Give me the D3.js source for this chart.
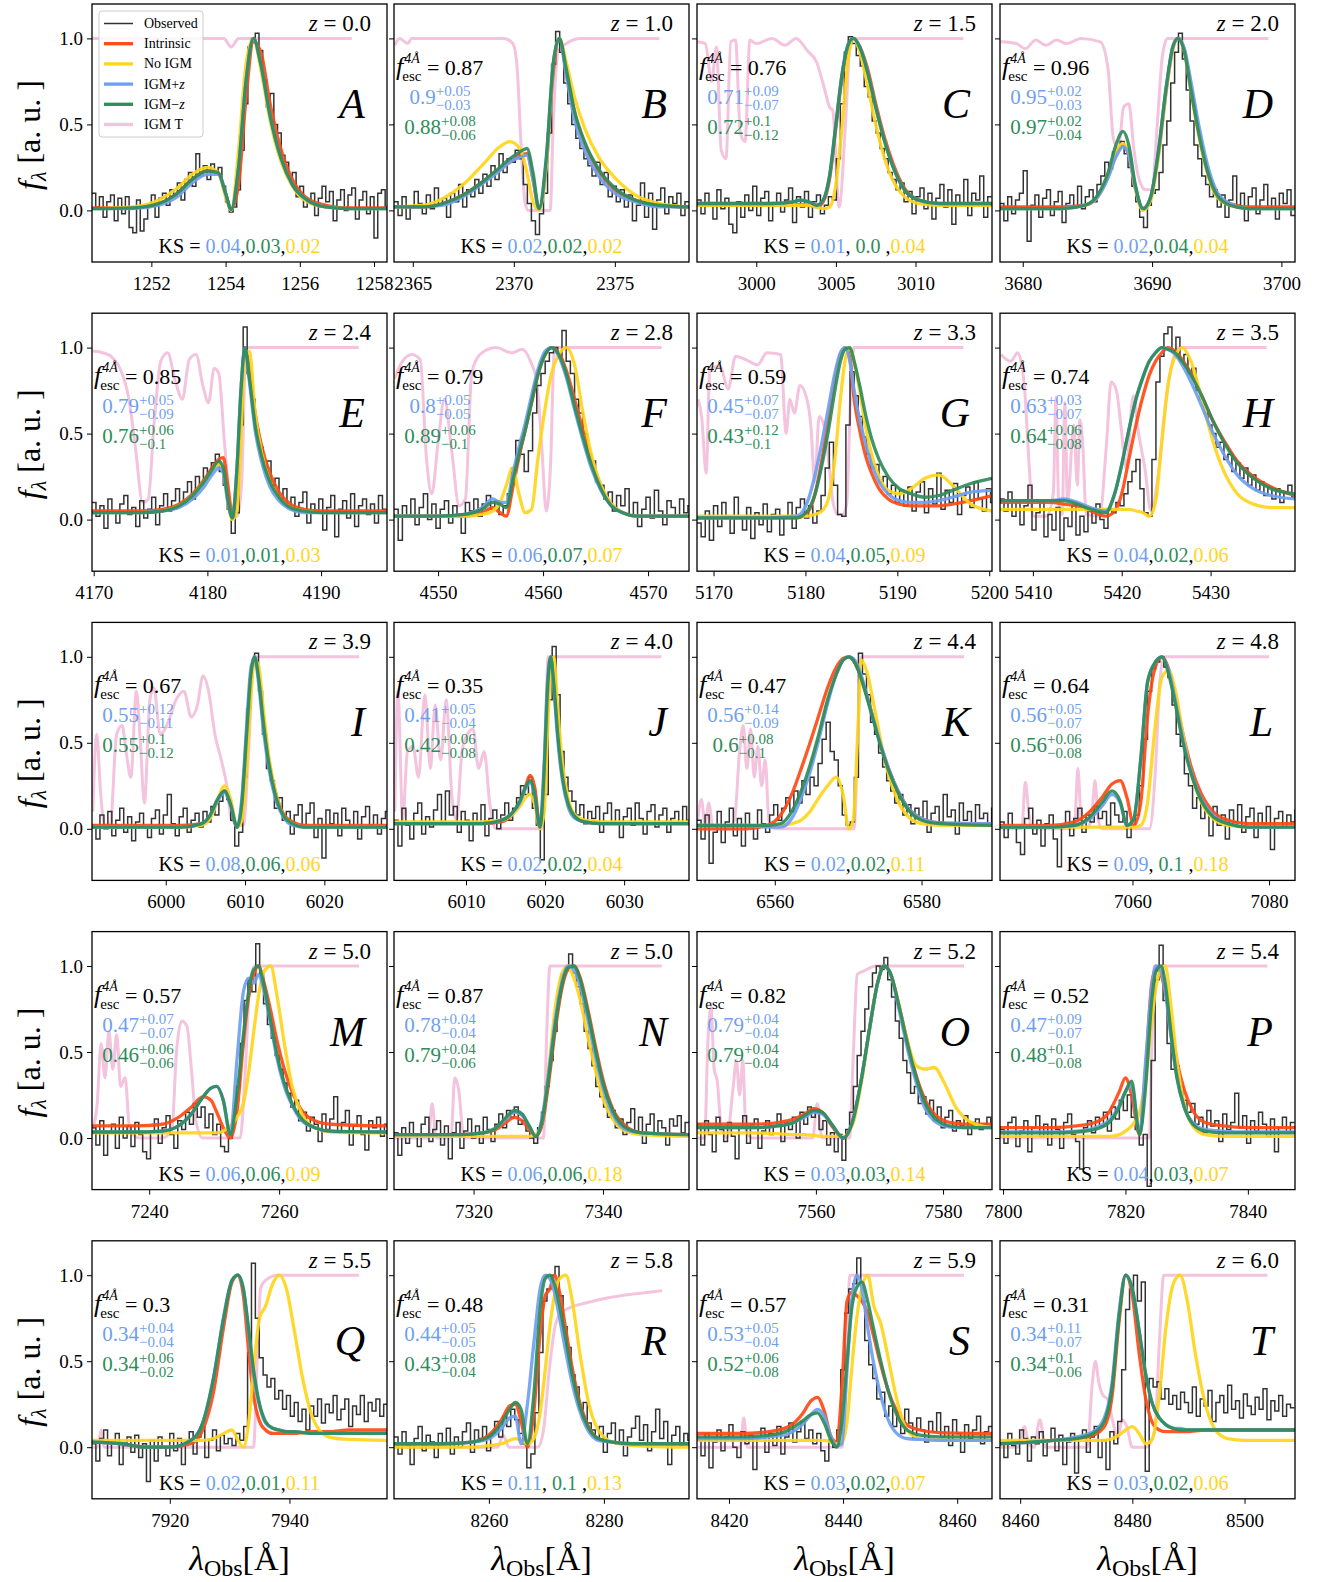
<!DOCTYPE html>
<html>
<head>
<meta charset="utf-8">
<script src="https://cdn.jsdelivr.net/npm/d3@7"></script>
<style>
body { margin: 0; background: #fff; }
text { font-family: "Liberation Serif", "DejaVu Serif", serif; white-space: pre; }
</style>
</head>
<body>
<div id="chart"></div>
<script>
// ---- panel labels and annotations ----
var letters = 'ABCDEFGHIJKLMNOPQRST'.split('');
var redshifts = ['0.0','1.0','1.5','2.0','2.4','2.8','3.3','3.5','3.9','4.0','4.4','4.8','5.0','5.0','5.2','5.4','5.5','5.8','5.9','6.0'];
var xDomains = [[1250.4,1258.35],[2364.07,2378.67],[2996.28,3014.8],[3678.24,3701.05],[4169.85,4195.8],
  [4545.8,4573.9],[5168.2,5200.3],[5406.3,5439.5],[5990.7,6027.9],[6000.9,6038.2],
  [6549.4,6589.6],[7040.6,7083.8],[7231.2,7276.6],[7307.7,7353.3],[7541.3,7587.7],
  [7799.5,7847.7],[7907.0,7956.3],[8243.5,8294.8],[8414.4,8466.1],[8456.4,8509.0]];
var xTicks = [[1252,1254,1256,1258],[2365,2370,2375],[3000,3005,3010],[3680,3690,3700],[4170,4180,4190],
  [4550,4560,4570],[5170,5180,5190,5200],[5410,5420,5430],[6000,6010,6020],[6010,6020,6030],
  [6560,6580],[7060,7080],[7240,7260],[7320,7340],[7560,7580],
  [7800,7820,7840],[7920,7940],[8260,8280],[8420,8440,8460],[8460,8480,8500]];
var yTicks = [0, 0.5, 1.0];
var fescObs = [null,'0.87','0.76','0.96','0.85','0.79','0.59','0.74','0.67','0.35','0.47','0.64','0.57','0.87','0.82','0.52','0.3','0.48','0.57','0.31'];
var fescPlus = [null,['0.9','+0.05','\u22120.03'],['0.71','+0.09','\u22120.07'],['0.95','+0.02','\u22120.03'],['0.79','+0.05','\u22120.09'],
  ['0.8','+0.05','\u22120.05'],['0.45','+0.07','\u22120.07'],['0.63','+0.03','\u22120.07'],['0.55','+0.12','\u22120.11'],['0.41','+0.05','\u22120.04'],
  ['0.56','+0.14','\u22120.09'],['0.56','+0.05','\u22120.07'],['0.47','+0.07','\u22120.07'],['0.78','+0.04','\u22120.04'],['0.79','+0.04','\u22120.04'],
  ['0.47','+0.09','\u22120.07'],['0.34','+0.04','\u22120.04'],['0.44','+0.05','\u22120.05'],['0.53','+0.05','\u22120.04'],['0.34','+0.11','\u22120.07']];
var fescMinus = [null,['0.88','+0.08','\u22120.06'],['0.72','+0.1','\u22120.12'],['0.97','+0.02','\u22120.04'],['0.76','+0.06','\u22120.1'],
  ['0.89','+0.06','\u22120.1'],['0.43','+0.12','\u22120.1'],['0.64','+0.06','\u22120.08'],['0.55','+0.1','\u22120.12'],['0.42','+0.06','\u22120.08'],
  ['0.6','+0.08','\u22120.1'],['0.56','+0.06','\u22120.08'],['0.46','+0.06','\u22120.06'],['0.79','+0.04','\u22120.06'],['0.79','+0.04','\u22120.04'],
  ['0.48','+0.1','\u22120.08'],['0.34','+0.06','\u22120.02'],['0.43','+0.08','\u22120.04'],['0.52','+0.06','\u22120.08'],['0.34','+0.1','\u22120.06']];
var ksPlus = ['0.04','0.02','0.01','0.02','0.01','0.06','0.04','0.04','0.08','0.02','0.02','0.09','0.06','0.06','0.03','0.04','0.02','0.11','0.03','0.03'];
var ksMinus = ['0.03','0.02','0.0','0.04','0.01','0.07','0.05','0.02','0.06','0.02','0.02','0.1','0.06','0.06','0.03','0.03','0.01','0.1','0.02','0.02'];
var ksNoIgm = ['0.02','0.02','0.04','0.04','0.03','0.07','0.09','0.06','0.06','0.04','0.11','0.18','0.09','0.18','0.14','0.07','0.11','0.13','0.07','0.06'];

// ---- model line profiles (wavelength grid per panel) ----
var modelX = [
  [1250.4,1251.5,1252.2,1252.7,1253.1,1253.5,1253.8,1254.0,1254.15,1254.35,1254.55,1254.75,1254.95,1255.2,1255.5,1255.8,1256.2,1256.7,1257.3,1258.35],
  [2364.07,2365.5,2366.5,2367.5,2368.5,2369.3,2369.8,2370.3,2370.65,2370.95,2371.25,2371.6,2371.95,2372.25,2372.6,2373.0,2373.5,2374.2,2375.0,2376.0,2377.2,2378.67],
  [2996.28,2999,3001,3002.3,3002.8,3003.3,3003.8,3004.2,3004.6,3005.0,3005.4,3005.8,3006.1,3006.5,3007.0,3007.5,3008.0,3008.6,3009.3,3010.2,3011.5,3014.8],
  [3678.24,3683,3684.8,3685.8,3686.6,3687.2,3687.75,3688.2,3688.7,3689.3,3689.9,3690.5,3691.1,3691.6,3692.0,3692.5,3693.0,3693.6,3694.3,3695.0,3696.0,3697.5,3701.05],
  [4169.85,4174,4176,4177.5,4178.7,4179.7,4180.4,4181.0,4181.4,4181.8,4182.2,4182.6,4182.95,4183.3,4183.7,4184.2,4184.8,4185.5,4186.3,4187.3,4188.5,4190,4195.8],
  [4545.8,4550,4552.5,4554.2,4555.2,4555.9,4556.5,4557.1,4557.7,4558.3,4558.9,4559.5,4560.2,4560.8,4561.5,4562.2,4563.0,4563.8,4564.6,4565.5,4566.5,4567.6,4569,4573.9],
  [5168.2,5176,5179,5180.2,5181.0,5181.8,5182.5,5183.2,5183.8,5184.3,5184.8,5185.3,5185.9,5186.5,5187.2,5188.0,5189.0,5190.2,5191.5,5193,5194.5,5196,5198,5200.3],
  [5406.3,5410,5412,5413.5,5415,5416.5,5418.2,5419.2,5420.0,5420.8,5421.6,5422.4,5423.1,5423.8,5424.5,5425.2,5426.0,5426.8,5427.8,5429.0,5430.3,5431.5,5433.0,5434.8,5436.8,5439.5],
  [5990.7,6002,6004.5,6005.6,6006.5,6007.4,6008.2,6009.0,6009.6,6010.2,6010.7,6011.2,6011.7,6012.3,6013.0,6013.8,6014.8,6016.0,6017.5,6027.9],
  [6000.9,6012,6014.5,6015.8,6016.8,6017.5,6018.1,6018.7,6019.35,6019.9,6020.3,6020.7,6021.1,6021.6,6022.2,6022.9,6023.8,6025.0,6027,6038.2],
  [6549.4,6556,6559,6560.8,6562.3,6563.6,6564.8,6566.0,6567.2,6568.4,6569.3,6570.1,6570.7,6571.3,6571.8,6572.5,6573.5,6574.5,6575.6,6576.8,6578.2,6580,6582.5,6589.6],
  [7040.6,7048,7051.5,7053.5,7055.5,7057.0,7058.2,7059.2,7060.2,7061.2,7062.2,7063.2,7064.3,7065.3,7066.3,7067.4,7068.6,7070.0,7071.8,7074,7077,7083.8],
  [7231.2,7238,7242,7244.5,7246.5,7248.3,7249.5,7250.4,7251.4,7252.5,7253.5,7254.5,7255.3,7256.1,7256.8,7257.7,7258.7,7259.7,7260.8,7262.0,7263.5,7265.5,7268,7276.6],
  [7307.7,7318,7321.5,7323.5,7325.0,7326.3,7327.5,7328.6,7329.6,7330.6,7331.6,7332.6,7333.6,7334.6,7335.5,7336.5,7337.6,7338.8,7340.0,7341.5,7343.5,7346,7353.3],
  [7541.3,7550,7554,7556.5,7558.2,7559.7,7561.0,7562.5,7564.3,7565.8,7567.2,7568.5,7569.7,7570.7,7571.8,7573.0,7574.4,7575.8,7577.2,7578.6,7580.2,7582.0,7584.5,7587.7],
  [7799.5,7808,7812,7815,7817.3,7819.0,7820.0,7821.0,7822.3,7823.3,7824.3,7825.0,7825.8,7826.5,7827.4,7828.4,7829.6,7831.0,7833,7836,7840,7847.7],
  [7907.0,7912,7916,7920,7923.5,7925.5,7927.3,7929.0,7930.4,7931.4,7932.3,7933.2,7934.0,7935.0,7936.0,7937.2,7938.3,7939.5,7940.8,7942.2,7944,7946.5,7950,7956.3],
  [8243.5,8252,8257,8260,8262.2,8263.6,8264.6,8265.6,8266.7,8267.8,8268.9,8269.8,8270.6,8271.4,8272.3,8273.4,8274.5,8275.8,8277.2,8279.0,8281.5,8285,8294.8],
  [8414.4,8422,8427,8430.5,8432.8,8434.4,8435.5,8436.7,8437.9,8438.9,8439.8,8440.7,8441.5,8442.4,8443.3,8444.3,8445.4,8446.6,8447.9,8449.4,8451.2,8453.5,8457,8466.1],
  [8456.4,8462,8466,8470,8473,8475,8476.4,8477.6,8478.8,8480.0,8481.2,8482.4,8483.6,8484.8,8486.0,8487.3,8488.5,8489.8,8491.2,8492.8,8494.8,8497,8500,8509.0]
];
var intrinsic = [
  [0.015,0.015,0.04,0.10,0.18,0.23,0.22,0.10,0.005,0.15,0.65,0.98,0.92,0.62,0.35,0.18,0.07,0.03,0.015,0.015],
  [0.02,0.02,0.04,0.09,0.17,0.24,0.28,0.32,0.33,0.18,0.01,0.25,0.80,1.0,0.80,0.57,0.39,0.23,0.12,0.06,0.03,0.02],
  [0.03,0.03,0.03,0.03,0.035,0.03,0.02,0.05,0.18,0.48,0.78,0.96,1.0,0.95,0.82,0.62,0.44,0.27,0.13,0.06,0.035,0.03],
  [0.02,0.02,0.03,0.08,0.2,0.33,0.38,0.32,0.13,0.01,0.08,0.33,0.70,0.94,1.0,0.93,0.72,0.46,0.23,0.10,0.04,0.02,0.02],
  [0.05,0.05,0.06,0.09,0.15,0.23,0.30,0.35,0.36,0.20,0.02,0.15,0.65,0.98,0.88,0.62,0.42,0.27,0.16,0.09,0.06,0.05,0.05],
  [0.02,0.02,0.02,0.04,0.07,0.04,0.02,0.18,0.36,0.52,0.68,0.84,0.96,1.0,0.97,0.87,0.70,0.52,0.35,0.20,0.09,0.04,0.02,0.02],
  [0.01,0.01,0.01,0.04,0.14,0.35,0.58,0.82,0.96,1.0,0.95,0.70,0.52,0.38,0.27,0.18,0.12,0.09,0.08,0.08,0.08,0.09,0.11,0.14],
  [0.10,0.10,0.10,0.09,0.08,0.05,0.02,0.05,0.15,0.35,0.55,0.72,0.84,0.92,0.97,1.0,0.98,0.93,0.85,0.72,0.57,0.46,0.34,0.25,0.19,0.14],
  [0.02,0.02,0.03,0.07,0.16,0.22,0.14,0.01,0.12,0.50,0.85,1.0,0.90,0.65,0.40,0.22,0.09,0.04,0.02,0.02],
  [0.03,0.03,0.04,0.08,0.15,0.24,0.31,0.24,0.02,0.25,0.72,0.98,0.88,0.58,0.32,0.16,0.07,0.04,0.03,0.03],
  [0.0,0.0,0.02,0.08,0.20,0.35,0.50,0.66,0.82,0.94,0.99,1.0,0.98,0.93,0.88,0.78,0.63,0.48,0.34,0.22,0.12,0.06,0.035,0.03],
  [0.02,0.02,0.04,0.09,0.18,0.26,0.28,0.18,0.02,0.15,0.65,0.92,1.0,0.93,0.76,0.55,0.36,0.21,0.10,0.05,0.03,0.03],
  [0.07,0.07,0.08,0.12,0.18,0.24,0.22,0.15,0.06,0.0,0.15,0.55,0.82,0.95,1.0,0.90,0.74,0.56,0.40,0.27,0.16,0.10,0.08,0.07],
  [0.02,0.02,0.03,0.05,0.09,0.12,0.10,0.05,0.01,0.08,0.32,0.62,0.86,0.98,1.0,0.93,0.76,0.54,0.34,0.17,0.07,0.03,0.02],
  [0.08,0.08,0.09,0.11,0.14,0.17,0.15,0.07,0.0,0.10,0.35,0.65,0.90,1.0,0.95,0.78,0.56,0.36,0.22,0.14,0.10,0.085,0.08,0.08],
  [0.06,0.06,0.07,0.09,0.15,0.27,0.35,0.25,0.02,0.40,0.90,0.98,0.95,0.85,0.66,0.45,0.28,0.16,0.09,0.07,0.06,0.06],
  [0.03,0.02,0.0,0.0,0.02,0.10,0.32,0.70,0.96,1.0,0.88,0.55,0.30,0.15,0.10,0.08,0.08,0.08,0.08,0.085,0.09,0.09,0.10,0.10],
  [0.02,0.02,0.03,0.07,0.16,0.24,0.25,0.15,0.0,0.20,0.65,0.88,0.92,1.0,0.90,0.68,0.46,0.26,0.13,0.05,0.03,0.02,0.02],
  [0.08,0.08,0.09,0.12,0.19,0.27,0.29,0.21,0.06,0.03,0.35,0.85,0.90,0.88,0.85,0.78,0.64,0.48,0.33,0.21,0.13,0.10,0.085,0.08],
  [0.03,0.03,0.04,0.05,0.07,0.12,0.30,0.72,1.0,0.88,0.55,0.28,0.14,0.10,0.09,0.09,0.09,0.09,0.095,0.10,0.10,0.10,0.10,0.10]
];
var noIgm = [
  [0.01,0.02,0.06,0.13,0.21,0.25,0.22,0.08,0.0,0.35,0.85,1.0,0.82,0.52,0.28,0.14,0.05,0.02,0.01,0.01],
  [0.02,0.03,0.07,0.15,0.27,0.37,0.40,0.36,0.22,0.05,0.0,0.25,0.85,1.0,0.86,0.66,0.48,0.31,0.19,0.09,0.04,0.02],
  [0.03,0.03,0.03,0.03,0.03,0.03,0.02,0.01,0.02,0.15,0.5,0.9,1.0,0.92,0.72,0.50,0.32,0.17,0.08,0.04,0.03,0.03],
  [0.01,0.01,0.03,0.08,0.21,0.34,0.39,0.33,0.13,0.0,0.06,0.32,0.70,0.94,1.0,0.92,0.70,0.44,0.21,0.08,0.03,0.01,0.01],
  [0.04,0.04,0.05,0.08,0.14,0.22,0.28,0.32,0.28,0.10,0.0,0.05,0.45,0.95,0.98,0.62,0.38,0.22,0.13,0.07,0.05,0.04,0.04],
  [0.02,0.02,0.02,0.03,0.05,0.10,0.20,0.30,0.15,0.04,0.06,0.35,0.65,0.85,0.96,1.0,0.90,0.62,0.38,0.20,0.09,0.04,0.02,0.02],
  [0.02,0.02,0.02,0.02,0.03,0.05,0.12,0.35,0.70,0.92,1.0,0.92,0.75,0.55,0.38,0.25,0.17,0.15,0.18,0.24,0.26,0.20,0.09,0.05],
  [0.06,0.06,0.06,0.06,0.06,0.06,0.06,0.06,0.06,0.06,0.05,0.04,0.02,0.10,0.45,0.78,0.95,1.0,0.92,0.70,0.45,0.28,0.15,0.09,0.07,0.07],
  [0.01,0.01,0.02,0.06,0.16,0.25,0.17,0.01,0.05,0.35,0.75,0.98,0.95,0.70,0.42,0.22,0.08,0.03,0.01,0.01],
  [0.04,0.04,0.05,0.08,0.13,0.18,0.20,0.14,0.0,0.10,0.55,0.92,1.0,0.70,0.38,0.18,0.08,0.05,0.04,0.04],
  [0.02,0.02,0.02,0.02,0.03,0.05,0.10,0.18,0.25,0.30,0.20,0.0,0.05,0.55,0.98,0.92,0.72,0.50,0.30,0.16,0.07,0.03,0.02,0.02],
  [0.01,0.01,0.01,0.01,0.01,0.01,0.01,0.01,0.01,0.02,0.15,0.55,0.88,0.92,0.80,0.55,0.32,0.16,0.06,0.02,0.01,0.01],
  [0.03,0.03,0.03,0.03,0.03,0.03,0.03,0.03,0.04,0.07,0.12,0.20,0.38,0.62,0.82,0.97,1.0,0.82,0.55,0.30,0.14,0.06,0.035,0.03],
  [0.01,0.01,0.01,0.01,0.01,0.01,0.01,0.01,0.02,0.10,0.40,0.75,0.95,1.0,0.93,0.80,0.60,0.40,0.23,0.11,0.04,0.02,0.01],
  [0.03,0.03,0.025,0.02,0.02,0.015,0.01,0.01,0.01,0.08,0.33,0.64,0.90,1.0,0.95,0.78,0.56,0.42,0.40,0.41,0.32,0.18,0.09,0.06],
  [0.01,0.01,0.01,0.01,0.01,0.02,0.04,0.07,0.15,0.35,0.68,0.88,0.98,1.0,0.78,0.45,0.20,0.07,0.02,0.01,0.01,0.01],
  [0.04,0.04,0.04,0.04,0.04,0.04,0.05,0.08,0.10,0.04,0.0,0.15,0.45,0.75,0.82,0.95,1.0,0.92,0.68,0.40,0.16,0.06,0.045,0.04],
  [0.0,0.0,0.0,0.01,0.02,0.04,0.05,0.04,0.02,0.05,0.20,0.45,0.70,0.88,0.98,1.0,0.85,0.55,0.28,0.10,0.03,0.01,0.0],
  [0.04,0.04,0.04,0.04,0.04,0.04,0.04,0.04,0.03,0.02,0.03,0.15,0.45,0.75,0.93,1.0,0.82,0.72,0.52,0.28,0.10,0.05,0.04,0.04],
  [0.04,0.04,0.04,0.04,0.04,0.04,0.05,0.07,0.10,0.12,0.08,0.02,0.05,0.30,0.70,0.95,1.0,0.85,0.55,0.28,0.10,0.05,0.04,0.04]
];
var igmPlus = [
  [0.01,0.01,0.03,0.08,0.16,0.21,0.21,0.10,0.005,0.25,0.75,1.0,0.85,0.55,0.30,0.15,0.06,0.02,0.01,0.01],
  [0.02,0.02,0.03,0.08,0.16,0.23,0.28,0.31,0.32,0.18,0.01,0.28,0.85,1.0,0.78,0.53,0.35,0.20,0.10,0.05,0.02,0.02],
  [0.04,0.04,0.04,0.05,0.06,0.05,0.03,0.06,0.20,0.50,0.80,0.97,1.0,0.95,0.80,0.60,0.42,0.25,0.12,0.06,0.04,0.04],
  [0.01,0.01,0.03,0.08,0.19,0.31,0.37,0.32,0.14,0.01,0.08,0.35,0.72,0.95,1.0,0.94,0.75,0.50,0.26,0.11,0.04,0.01,0.01],
  [0.04,0.04,0.05,0.07,0.12,0.19,0.26,0.30,0.27,0.10,0.01,0.30,0.75,1.0,0.80,0.52,0.33,0.19,0.11,0.06,0.04,0.04,0.04],
  [0.02,0.02,0.03,0.07,0.12,0.10,0.10,0.26,0.42,0.56,0.72,0.87,0.98,1.0,0.95,0.83,0.64,0.46,0.30,0.17,0.08,0.04,0.02,0.02],
  [0.01,0.01,0.02,0.10,0.25,0.45,0.65,0.85,0.97,1.0,0.93,0.75,0.58,0.45,0.32,0.22,0.15,0.11,0.10,0.10,0.11,0.13,0.16,0.17],
  [0.11,0.11,0.11,0.12,0.10,0.07,0.05,0.15,0.32,0.52,0.70,0.83,0.92,0.97,1.0,0.99,0.96,0.90,0.80,0.66,0.50,0.38,0.26,0.18,0.14,0.12],
  [0.01,0.01,0.03,0.08,0.16,0.21,0.13,0.01,0.18,0.60,0.92,1.0,0.85,0.58,0.35,0.18,0.07,0.02,0.01,0.01],
  [0.03,0.03,0.05,0.09,0.15,0.23,0.27,0.19,0.01,0.40,0.85,1.0,0.82,0.52,0.28,0.13,0.06,0.04,0.03,0.03],
  [0.02,0.02,0.01,0.01,0.06,0.18,0.33,0.52,0.73,0.90,0.98,1.0,0.99,0.95,0.89,0.78,0.63,0.48,0.34,0.22,0.12,0.06,0.035,0.03],
  [0.01,0.01,0.02,0.05,0.13,0.20,0.15,0.02,0.06,0.40,0.85,0.96,1.0,0.92,0.74,0.52,0.33,0.18,0.08,0.03,0.01,0.01],
  [0.035,0.035,0.04,0.07,0.14,0.24,0.29,0.30,0.22,0.02,0.45,0.85,0.93,0.90,0.95,0.85,0.66,0.46,0.30,0.19,0.10,0.06,0.04,0.035],
  [0.02,0.02,0.03,0.06,0.11,0.15,0.13,0.07,0.01,0.12,0.38,0.68,0.90,1.0,0.98,0.88,0.70,0.48,0.29,0.14,0.05,0.03,0.02],
  [0.06,0.06,0.07,0.09,0.12,0.15,0.14,0.08,0.0,0.10,0.35,0.65,0.90,1.0,0.95,0.76,0.52,0.32,0.17,0.10,0.07,0.06,0.06,0.06],
  [0.035,0.035,0.04,0.06,0.10,0.19,0.27,0.30,0.03,0.45,0.88,1.0,0.97,0.85,0.60,0.36,0.18,0.09,0.05,0.04,0.035,0.035],
  [0.03,0.02,0.0,0.0,0.04,0.14,0.40,0.76,0.97,1.0,0.92,0.66,0.42,0.24,0.14,0.11,0.10,0.09,0.09,0.085,0.08,0.08,0.08,0.08],
  [0.02,0.02,0.03,0.05,0.11,0.17,0.18,0.02,0.25,0.60,0.92,1.0,0.98,0.90,0.75,0.55,0.37,0.21,0.10,0.04,0.03,0.02,0.02],
  [0.05,0.05,0.06,0.08,0.13,0.19,0.22,0.18,0.06,0.01,0.02,0.45,0.85,1.0,0.92,0.70,0.48,0.30,0.16,0.08,0.05,0.045,0.04,0.04],
  [0.02,0.03,0.04,0.06,0.09,0.17,0.38,0.78,1.0,0.92,0.68,0.42,0.25,0.17,0.13,0.11,0.11,0.10,0.10,0.10,0.10,0.10,0.10,0.10]
];
var igmMinus = [
  [0.01,0.015,0.04,0.10,0.18,0.23,0.22,0.10,0.005,0.25,0.75,1.0,0.85,0.55,0.30,0.15,0.06,0.02,0.01,0.01],
  [0.02,0.02,0.04,0.09,0.17,0.25,0.30,0.34,0.36,0.22,0.01,0.30,0.85,1.0,0.82,0.58,0.40,0.24,0.13,0.06,0.03,0.02],
  [0.04,0.04,0.04,0.05,0.06,0.05,0.03,0.06,0.20,0.50,0.80,0.97,1.0,0.95,0.80,0.60,0.42,0.25,0.12,0.06,0.04,0.04],
  [0.01,0.01,0.03,0.09,0.22,0.38,0.46,0.38,0.15,0.01,0.08,0.35,0.72,0.95,1.0,0.92,0.70,0.45,0.22,0.09,0.03,0.01,0.01],
  [0.04,0.04,0.05,0.08,0.14,0.22,0.29,0.34,0.30,0.12,0.01,0.30,0.75,1.0,0.82,0.55,0.36,0.22,0.13,0.07,0.05,0.04,0.04],
  [0.02,0.02,0.03,0.06,0.10,0.09,0.07,0.22,0.38,0.52,0.68,0.84,0.96,1.0,0.96,0.85,0.66,0.48,0.32,0.18,0.08,0.04,0.02,0.02],
  [0.01,0.01,0.01,0.05,0.14,0.32,0.52,0.75,0.92,0.99,1.0,0.92,0.78,0.62,0.47,0.35,0.25,0.18,0.15,0.13,0.14,0.17,0.21,0.24],
  [0.11,0.11,0.11,0.11,0.09,0.06,0.04,0.15,0.32,0.52,0.70,0.83,0.92,0.97,1.0,0.99,0.97,0.92,0.84,0.72,0.57,0.45,0.33,0.24,0.18,0.15],
  [0.01,0.01,0.03,0.08,0.17,0.22,0.14,0.01,0.15,0.55,0.88,1.0,0.88,0.62,0.38,0.20,0.08,0.03,0.01,0.01],
  [0.03,0.03,0.05,0.09,0.16,0.24,0.28,0.20,0.01,0.35,0.80,1.0,0.85,0.55,0.30,0.15,0.07,0.04,0.03,0.03],
  [0.02,0.02,0.02,0.03,0.10,0.22,0.37,0.55,0.75,0.90,0.98,1.0,0.98,0.93,0.87,0.77,0.62,0.47,0.33,0.21,0.11,0.05,0.03,0.02],
  [0.01,0.01,0.02,0.06,0.15,0.22,0.16,0.02,0.06,0.40,0.85,0.96,1.0,0.90,0.72,0.50,0.32,0.17,0.07,0.03,0.01,0.01],
  [0.035,0.035,0.04,0.07,0.14,0.24,0.29,0.30,0.22,0.02,0.25,0.60,0.85,0.98,1.0,0.88,0.68,0.48,0.32,0.20,0.11,0.06,0.04,0.035],
  [0.02,0.02,0.03,0.06,0.12,0.16,0.14,0.07,0.01,0.10,0.35,0.65,0.88,0.99,1.0,0.92,0.74,0.52,0.32,0.16,0.06,0.03,0.02],
  [0.06,0.06,0.07,0.09,0.13,0.16,0.15,0.08,0.0,0.10,0.35,0.65,0.90,1.0,0.95,0.78,0.55,0.35,0.20,0.12,0.08,0.065,0.06,0.06],
  [0.03,0.03,0.035,0.05,0.09,0.18,0.27,0.33,0.02,0.30,0.80,0.97,1.0,0.90,0.62,0.35,0.18,0.08,0.04,0.03,0.03,0.03],
  [0.03,0.02,0.0,0.0,0.04,0.14,0.40,0.75,0.97,1.0,0.92,0.68,0.45,0.25,0.15,0.11,0.10,0.09,0.09,0.085,0.08,0.08,0.08,0.08],
  [0.02,0.02,0.03,0.06,0.14,0.22,0.26,0.22,0.02,0.30,0.80,0.98,1.0,0.95,0.82,0.62,0.42,0.24,0.12,0.05,0.03,0.02,0.02],
  [0.06,0.06,0.07,0.10,0.15,0.19,0.20,0.14,0.04,0.0,0.15,0.50,0.80,0.93,0.96,0.85,0.68,0.50,0.33,0.19,0.10,0.07,0.06,0.06],
  [0.02,0.03,0.04,0.05,0.08,0.15,0.35,0.75,1.0,0.92,0.68,0.42,0.25,0.17,0.13,0.11,0.10,0.10,0.10,0.10,0.10,0.10,0.10,0.10]
];

// ---- IGM transmission ----
var igmTx = [
  [1250.4,1253.95,1254.15,1254.35,1257.4],
  [2364.1,2364.35,2364.75,2364.95,2369.5,2369.95,2370.15,2370.35,2370.55,2370.7,2371.8,2371.95,2372.2,2372.6,2373.3,2377.2],
  [2996.3,2996.8,2997.2,2997.5,2997.8,2998.1,2998.4,2998.7,2999.0,2999.3,2999.6,3000.0,3001.0,3001.8,3002.5,3003.2,3003.8,3004.3,3004.6,3004.8,3005.2,3005.6,3005.9,3006.2,3013.0],
  [3678.3,3679.5,3680.2,3681.0,3681.8,3682.6,3683.4,3684.5,3686.0,3686.6,3687.0,3687.4,3687.8,3688.2,3688.6,3689.0,3689.5,3690.0,3690.4,3690.8,3691.2,3699.0],
  [4169.9,4170.8,4171.5,4172.3,4173.1,4173.7,4174.3,4174.8,4175.3,4175.9,4176.5,4177.2,4177.8,4178.4,4179.0,4179.6,4180.1,4180.6,4181.0,4181.5,4182.0,4182.6,4183.0,4183.4,4193.3],
  [4545.85,4546.6,4547.5,4548.3,4548.9,4549.4,4550.0,4550.6,4551.3,4552.0,4552.6,4553.2,4554.0,4555.5,4557.0,4558.0,4558.8,4559.4,4559.9,4560.3,4560.7,4561.1,4571.3],
  [5168.3,5168.7,5169.2,5169.6,5170.7,5171.6,5172.4,5173.5,5174.8,5175.8,5177.3,5177.9,5178.3,5178.8,5179.4,5180.2,5180.6,5181.0,5181.5,5182.0,5182.5,5183.0,5183.5,5184.1,5184.5,5184.9,5185.3,5197.2],
  [5406.4,5407.5,5408.3,5409.0,5409.6,5410.0,5411.5,5412.3,5412.6,5412.9,5413.3,5413.6,5413.9,5414.6,5415.0,5415.3,5415.6,5416.0,5417.5,5418.3,5418.8,5419.4,5419.9,5420.5,5421.3,5421.9,5422.6,5423.3,5424.2,5425.0,5426.4,5436.3],
  [5990.8,5991.3,5991.8,5992.3,5993.0,5993.8,5994.5,5995.0,5995.6,5996.3,5996.8,5997.3,5998.0,5998.5,5999.3,6000.3,6001.3,6002.3,6003.2,6004.0,6004.7,6005.4,6006.2,6007.0,6007.7,6008.3,6009.8,6010.5,6011.1,6024.4],
  [6001.0,6001.4,6002.0,6002.6,6003.3,6004.0,6004.8,6005.5,6006.1,6006.8,6007.5,6008.2,6008.8,6009.5,6010.2,6010.9,6011.6,6012.3,6013.0,6013.8,6019.6,6020.0,6020.4,6034.7],
  [6549.5,6550.0,6550.5,6551.0,6551.6,6552.3,6553.5,6554.5,6555.2,6555.7,6556.2,6556.7,6557.2,6557.7,6558.2,6558.7,6559.2,6560.0,6570.8,6571.3,6571.8,6585.8],
  [7040.7,7043.8,7044.3,7044.8,7045.3,7051.5,7052.0,7052.5,7053.0,7054.0,7054.5,7055.0,7055.5,7062.5,7063.3,7064.0,7064.6,7080.0],
  [7231.3,7232.0,7232.6,7233.2,7233.8,7234.4,7235.0,7235.6,7236.3,7237.0,7238.5,7242.0,7243.5,7244.2,7245.0,7245.8,7246.5,7247.2,7248.2,7254.0,7254.8,7255.5,7256.2,7272.3],
  [7307.8,7313.0,7313.6,7314.2,7315.0,7316.5,7317.1,7317.7,7318.5,7330.8,7331.3,7331.8,7349.1],
  [7541.4,7542.5,7543.0,7543.5,7544.0,7544.5,7545.0,7546.0,7547.0,7547.5,7548.0,7548.5,7549.0,7550.0,7559.5,7560.2,7561.0,7565.3,7565.9,7566.5,7567.5,7569.5,7583.3],
  [7799.6,7823.9,7824.3,7824.7,7843.2],
  [7907.1,7908.0,7908.5,7909.0,7934.0,7934.6,7935.2,7936.0,7938.0,7951.6],
  [8243.6,8261.5,8262.5,8263.5,8268.5,8269.5,8270.5,8271.5,8272.5,8274.0,8277,8281,8285,8290.1],
  [8414.5,8422.0,8422.6,8423.2,8439.8,8440.5,8441.2,8461.2],
  [8456.5,8459.5,8460.8,8461.5,8462.5,8463.5,8464.5,8472.0,8472.8,8473.4,8474.0,8474.8,8475.6,8476.5,8477.4,8478.2,8479.0,8480.0,8482.5,8484.0,8484.8,8485.6,8504.1]
];
var igmTy = [
  [1,1,0.95,1,1],
  [0.96,1.0,0.97,1.0,1.0,0.97,0.85,0.4,0.05,0.0,0.0,0.5,0.93,0.97,1.0,1.0],
  [0.98,0.97,0.75,0.95,0.35,0.30,0.98,0.99,0.45,0.40,0.99,0.97,1.0,0.96,1.0,0.93,0.86,0.70,0.60,0.58,0.02,0.5,0.97,1.0,1.0],
  [0.98,0.97,0.94,0.99,0.96,0.99,0.97,1.0,0.98,0.82,0.42,0.36,0.6,0.62,0.35,0.18,0.12,0.12,0.5,0.9,1.0,1.0],
  [0.98,0.97,0.95,0.88,0.70,0.40,0.10,0.12,0.55,0.92,0.97,0.80,0.70,0.93,0.96,0.78,0.68,0.88,0.85,0.45,0.10,0.02,0.2,1.0,1.0],
  [0.82,0.92,0.96,0.93,0.35,0.15,0.45,0.70,0.40,0.08,0.12,0.85,0.96,1.0,0.97,0.99,0.92,0.80,0.40,0.05,0.3,1.0,1.0],
  [0.70,0.60,0.27,0.88,0.89,0.76,0.95,0.93,0.90,0.97,0.96,0.50,0.70,0.62,0.78,0.69,0.54,0.22,0.60,0.55,0.35,0.10,0.03,0.03,0.10,0.70,1.0,1.0],
  [0.96,0.92,0.97,0.80,0.30,0.02,0.02,0.15,0.71,0.10,0.03,0.68,0.10,0.55,0.20,0.58,0.45,0.03,0.02,0.45,0.80,0.75,0.55,0.30,0.72,0.50,0.30,0.05,0.30,0.70,1.0,1.0],
  [0.10,0.55,0.20,0.02,0.02,0.55,0.60,0.45,0.30,0.80,0.50,0.15,0.75,0.82,0.55,0.62,0.75,0.80,0.65,0.72,0.89,0.80,0.55,0.40,0.25,0.05,0.02,0.5,1.0,1.0],
  [0.10,0.80,0.05,0.45,0.48,0.30,0.78,0.35,0.72,0.40,0.75,0.20,0.05,0.45,0.55,0.58,0.35,0.45,0.15,0.0,0.0,0.5,1.0,1.0],
  [0.05,0.17,0.02,0.15,0.0,0.02,0.0,0.05,0.45,0.60,0.35,0.58,0.30,0.48,0.25,0.40,0.05,0.0,0.0,0.5,1.0,1.0],
  [0.0,0.0,0.27,0.10,0.0,0.0,0.35,0.05,0.0,0.05,0.28,0.05,0.0,0.0,0.3,0.85,1.0,1.0],
  [0.05,0.20,0.55,0.35,0.62,0.40,0.60,0.30,0.35,0.05,0.0,0.0,0.05,0.50,0.68,0.65,0.40,0.10,0.0,0.0,0.4,0.9,1.0,1.0],
  [0.0,0.0,0.20,0.0,0.0,0.0,0.35,0.28,0.0,0.0,0.6,1.0,1.0],
  [0.0,0.0,0.55,0.76,0.40,0.33,0.10,0.0,0.30,0.45,0.25,0.45,0.05,0.0,0.0,0.2,0.0,0.0,0.5,0.95,0.97,1.0,1.0],
  [0.0,0.0,0.5,1.0,1.0],
  [0.0,0.0,0.10,0.0,0.0,0.5,0.93,0.97,1.0,1.0],
  [0.0,0.0,0.07,0.0,0.0,0.10,0.45,0.70,0.78,0.81,0.84,0.87,0.89,0.91],
  [0.0,0.0,0.17,0.0,0.0,0.4,1.0,1.0],
  [0.0,0.0,0.12,0.02,0.0,0.16,0.0,0.0,0.35,0.50,0.38,0.30,0.28,0.15,0.05,0.16,0.12,0.0,0.0,0.10,0.6,1.0,1.0]
];

// ---- observed spectra (bin start, bin width, flux per bin) ----
var obsStart = [1250.4,2364.07,2996.28,3678.24,4169.85,4545.8,5168.2,5406.3,5990.7,6000.9,6549.4,7040.6,7231.2,7307.7,7541.3,7799.5,7907.0,8243.5,8414.4,8456.4];
var obsStep = [0.1,0.2,0.25,0.3,0.35,0.4,0.45,0.45,0.5,0.5,0.55,0.6,0.6,0.6,0.6,0.65,0.65,0.7,0.7,0.7];
var observed = [
  [0.10,0.02,0.08,-0.04,0.05,0.09,-0.06,0.07,-0.02,0.08,-0.10,-0.13,0.06,-0.12,-0.05,0.02,0.09,-0.04,0.07,0.10,
   0.03,0.12,0.08,0.16,0.06,0.18,0.22,0.14,0.33,0.20,0.26,0.18,0.27,0.23,0.25,0.14,0.05,-0.01,0.02,0.12,
   0.35,0.62,0.95,1.0,1.03,0.93,0.76,0.60,0.68,0.50,0.45,0.32,0.28,0.18,0.22,0.08,0.14,0.02,0.05,0.10,
   -0.03,0.07,0.14,0.05,0.11,-0.06,0.06,0.12,0.00,0.09,0.13,-0.05,0.06,0.11,-0.02,0.08,-0.16,0.10,0.12,0.02],
  [0.05,-0.03,0.08,-0.05,0.02,0.11,0.04,-0.02,0.09,0.01,0.13,0.03,0.07,-0.04,0.10,0.05,0.15,0.02,0.12,0.08,
   0.18,0.10,0.21,0.14,0.26,0.18,0.33,0.22,0.30,0.28,0.35,0.30,0.15,0.04,-0.06,-0.14,-0.02,0.10,0.45,0.85,
   1.04,0.92,0.74,0.62,0.50,0.42,0.36,0.30,0.26,0.20,0.28,0.15,0.22,0.08,0.14,0.05,0.12,0.02,0.09,-0.06,
   0.03,0.16,-0.04,0.10,-0.11,0.06,0.13,-0.02,0.08,0.04,0.10,-0.03,0.05],
  [0.06,-0.02,0.10,0.03,-0.05,0.12,0.01,0.07,-0.08,-0.13,0.05,-0.04,0.09,0.00,0.14,-0.03,0.07,0.11,-0.06,0.04,
   0.10,-0.01,0.06,0.13,-0.07,0.08,0.02,0.11,-0.04,0.05,0.09,-0.02,0.03,0.08,0.06,0.30,0.62,0.92,1.01,0.97,
   0.90,0.84,0.72,0.66,0.52,0.45,0.36,0.30,0.22,0.18,0.12,0.16,0.05,0.11,-0.02,0.08,0.13,0.01,0.10,-0.05,
   0.07,0.15,0.02,0.12,-0.08,0.09,0.04,0.18,-0.03,0.10,0.06,0.20,-0.04,0.08],
  [0.04,-0.06,0.08,-0.02,0.06,0.10,0.23,-0.18,0.03,0.09,-0.04,0.07,0.12,-0.03,0.05,0.11,-0.07,0.04,0.09,0.02,
   0.14,0.01,0.08,0.12,0.05,0.15,0.20,0.28,0.24,0.34,0.36,0.40,0.33,0.25,0.14,0.05,-0.04,-0.10,0.03,0.10,
   0.12,0.22,0.38,0.52,0.74,0.92,1.03,0.88,0.70,0.52,0.38,0.30,0.20,0.15,0.08,0.12,0.02,0.09,-0.04,0.06,
   0.20,0.03,0.10,-0.06,0.08,0.13,-0.02,0.06,0.15,0.01,0.07,-0.05,0.10,0.04,0.12,-0.03],
  [0.10,0.02,0.08,-0.05,0.12,0.04,-0.02,0.09,0.14,0.03,0.07,-0.04,0.11,0.01,0.06,0.13,-0.03,0.08,0.15,0.05,
   0.11,0.18,0.09,0.16,0.22,0.12,0.25,0.20,0.30,0.26,0.33,0.38,0.28,0.20,0.06,-0.08,0.04,0.55,1.12,0.85,
   0.70,0.52,0.42,0.30,0.34,0.20,0.24,0.12,0.18,0.08,0.13,0.02,0.10,0.16,-0.02,0.09,0.05,0.12,-0.06,0.07,
   0.14,-0.10,0.06,0.11,0.01,0.15,-0.04,0.08,0.12,0.03,0.09,-0.02,0.14,0.06],
  [0.06,-0.12,0.08,0.02,0.12,-0.03,0.07,0.15,0.00,0.09,-0.05,0.06,0.11,-0.02,0.08,0.03,-0.08,0.10,0.05,0.12,
   0.02,0.09,0.14,0.06,0.11,0.03,0.08,0.15,0.30,0.46,0.38,0.28,0.40,0.62,0.78,0.85,0.92,0.97,1.0,0.95,
   1.10,0.92,0.85,0.70,0.62,0.50,0.38,0.34,0.22,0.20,0.12,0.16,0.05,0.14,0.08,0.18,0.02,0.10,-0.04,0.06,
   0.13,0.01,0.17,0.05,-0.03,0.11,0.07,0.02,0.12,0.04,0.08],
  [-0.02,-0.10,0.05,-0.12,0.08,-0.04,0.10,0.02,-0.08,0.13,0.01,-0.06,0.07,-0.11,0.04,-0.03,0.09,-0.07,0.03,0.06,
   -0.09,0.02,0.10,-0.05,0.07,0.12,0.01,0.08,-0.02,0.05,0.14,0.30,0.45,0.20,0.03,0.02,0.55,0.86,0.72,0.60,
   0.48,0.38,0.30,0.32,0.22,0.25,0.15,0.20,0.10,0.17,0.08,0.19,0.05,0.16,0.22,0.04,0.18,0.09,0.27,0.06,
   0.17,0.10,0.21,0.03,0.14,0.19,0.07,0.22,0.12,0.05,0.18,0.10],
  [0.12,0.05,0.16,0.02,0.10,-0.03,0.08,0.20,-0.06,0.04,0.10,-0.10,0.03,-0.06,0.07,-0.12,0.01,-0.04,0.08,-0.09,
   0.02,-0.07,0.05,-0.02,0.09,0.00,-0.05,0.06,0.04,0.10,0.08,0.15,0.22,0.28,0.35,0.18,0.04,0.02,0.35,0.80,
   0.95,1.08,1.12,0.98,1.06,0.92,0.96,0.85,0.88,0.75,0.70,0.62,0.55,0.50,0.42,0.45,0.35,0.38,0.28,0.33,
   0.24,0.30,0.20,0.26,0.17,0.22,0.14,0.19,0.12,0.18,0.10,0.16,0.20,0.13],
  [0.02,-0.06,0.08,0.00,0.10,-0.04,0.05,0.12,-0.02,0.07,-0.07,0.04,0.09,0.01,-0.05,0.06,0.11,-0.03,0.08,0.20,
   0.03,-0.04,0.07,0.12,-0.02,0.05,0.09,0.01,0.10,0.04,0.13,0.08,0.16,0.22,0.17,0.05,-0.10,-0.02,0.30,0.70,
   0.95,1.02,0.80,0.55,0.35,0.28,0.12,0.18,0.05,0.10,-0.03,0.08,0.14,0.02,0.09,0.15,-0.05,0.06,-0.17,0.11,
   0.03,0.09,-0.04,0.12,0.05,0.01,0.10,-0.06,0.07,0.13,0.02,0.08,-0.03,0.06,0.10],
  [0.05,-0.10,0.12,0.02,-0.06,0.09,0.15,-0.03,0.07,0.01,0.11,0.20,0.04,0.22,0.08,0.13,-0.02,0.10,0.05,-0.07,
   0.09,0.03,0.14,-0.04,0.06,0.11,0.00,0.08,0.15,0.05,0.12,0.18,0.25,0.20,0.30,0.12,0.02,-0.18,0.20,0.75,
   1.06,0.78,0.45,0.30,0.22,0.16,0.08,0.14,0.03,0.10,0.06,0.13,-0.02,0.09,0.15,0.04,0.11,-0.05,0.07,0.12,
   0.02,0.15,0.06,-0.03,0.10,0.14,0.01,0.08,0.12,-0.02,0.06,0.10,0.03,0.13,0.05],
  [0.05,-0.06,0.08,-0.20,-0.02,0.10,-0.08,0.04,0.12,-0.04,0.06,-0.10,0.09,0.02,-0.06,0.11,0.03,-0.02,0.08,0.14,
   0.05,0.12,0.18,0.10,0.22,0.15,0.28,0.20,0.30,0.25,0.38,0.52,0.62,0.45,0.40,0.25,0.08,0.02,0.04,0.30,
   1.02,0.90,0.78,0.62,0.55,0.44,0.36,0.28,0.22,0.15,0.20,0.08,0.14,0.03,0.12,0.06,0.16,-0.02,0.09,0.13,
   0.04,0.20,0.07,0.11,-0.03,0.15,0.05,0.10,0.02,0.14,0.06,0.09,0.03,0.12],
  [0.04,-0.05,0.09,0.01,-0.08,-0.15,0.06,0.12,-0.03,0.05,-0.10,0.03,0.08,-0.06,-0.22,0.02,0.10,-0.04,0.06,0.12,
   -0.02,0.08,0.04,0.13,0.06,0.10,0.02,0.15,0.08,0.04,0.10,-0.05,0.02,0.08,0.25,0.52,0.80,0.93,0.97,1.0,
   0.94,0.88,0.72,0.55,0.48,0.32,0.25,0.12,0.18,0.06,0.10,-0.04,0.13,0.02,0.08,-0.06,0.11,0.04,0.14,-0.02,
   0.07,0.12,-0.05,0.09,0.03,0.13,-0.12,0.06,0.10,0.01,0.08,0.04,0.11],
  [0.06,-0.04,0.10,-0.10,0.03,0.08,-0.06,0.12,0.00,0.07,-0.05,0.09,0.02,-0.08,-0.12,0.04,0.11,-0.03,0.06,0.13,
   0.02,-0.06,0.10,0.05,0.15,0.08,0.20,0.12,0.18,0.06,0.14,0.02,0.08,-0.05,-0.08,0.00,0.10,0.30,0.55,0.80,
   0.92,0.85,1.13,0.95,0.78,0.66,0.58,0.48,0.40,0.32,0.26,0.18,0.22,0.10,0.15,0.04,0.12,0.08,-0.02,0.14,
   0.05,0.11,0.24,0.03,0.09,0.16,-0.04,0.07,0.13,0.02,-0.07,0.10,0.06,0.12,0.01,0.08],
  [0.03,-0.10,0.06,-0.03,0.09,0.01,-0.05,0.08,0.12,-0.02,0.05,0.10,-0.04,0.07,-0.12,0.03,0.09,-0.06,0.04,0.11,
   0.00,0.07,-0.03,0.12,0.05,-0.02,0.08,0.14,0.06,0.16,0.12,0.18,0.08,0.10,0.04,0.00,-0.03,0.06,0.15,0.30,
   0.45,0.62,0.82,0.95,0.98,1.07,0.96,0.88,0.78,0.62,0.52,0.42,0.30,0.24,0.18,0.12,0.16,0.06,0.11,0.02,
   0.09,0.17,0.04,0.12,-0.03,0.08,0.14,0.02,0.10,0.06,-0.04,0.11,0.07,0.13,0.03,0.09],
  [0.08,-0.04,0.10,0.02,-0.08,0.12,0.05,-0.02,0.09,0.01,-0.12,0.06,0.13,-0.03,0.08,0.11,-0.06,0.04,0.10,0.02,
   0.07,0.14,-0.02,0.09,0.05,0.12,0.00,0.15,0.08,0.18,0.12,0.16,0.05,0.10,-0.04,0.03,-0.08,0.02,-0.13,0.05,
   0.15,0.30,0.48,0.62,0.75,0.88,0.96,1.0,0.98,1.05,0.92,0.82,0.68,0.58,0.45,0.38,0.26,0.30,0.20,0.24,
   0.14,0.22,0.10,0.18,0.06,0.12,0.16,0.04,0.10,0.07,0.13,0.02,0.09,0.11,0.05,0.08,0.12,0.06],
  [0.05,-0.03,0.09,0.12,-0.05,0.04,0.10,-0.08,0.06,0.13,0.01,0.08,-0.04,0.11,0.05,-0.06,0.09,0.14,0.02,-0.02,
   -0.18,0.06,0.10,0.03,0.12,0.07,0.15,0.04,0.18,0.11,0.22,0.16,0.25,0.12,0.05,-0.04,0.02,-0.28,0.45,0.92,
   1.12,0.80,0.55,0.40,0.42,0.30,0.22,0.15,0.20,0.08,0.12,0.03,0.16,0.07,0.10,-0.02,0.14,0.05,0.09,0.26,
   0.06,0.13,-0.03,0.10,0.04,0.15,0.08,0.01,0.11,-0.08,0.06,0.12,0.03,0.09],
  [0.02,-0.08,0.05,0.10,-0.05,0.03,0.08,-0.10,0.01,0.06,-0.03,0.07,-0.06,0.02,-0.20,0.04,-0.08,0.06,0.00,-0.05,
   0.08,-0.02,0.05,-0.10,0.03,0.09,-0.04,0.06,0.12,-0.06,0.04,0.10,-0.02,0.07,0.02,0.05,0.01,0.08,0.04,0.12,
   0.55,1.07,0.75,0.52,0.42,0.35,0.40,0.28,0.33,0.22,0.30,0.18,0.26,0.15,0.22,0.10,0.24,0.18,0.28,0.14,
   0.25,0.20,0.30,0.16,0.22,0.28,0.12,0.24,0.19,0.30,0.15,0.26,0.21,0.28,0.18,0.25],
  [0.06,-0.04,0.09,0.01,-0.10,0.05,0.12,-0.02,0.07,0.03,-0.06,0.08,0.02,0.11,-0.04,0.06,0.00,0.09,0.14,-0.03,
   0.10,0.05,0.12,-0.02,0.08,0.15,0.06,0.18,0.12,0.22,0.16,0.08,0.02,-0.12,-0.04,0.20,0.55,0.85,0.92,1.0,
   1.05,0.88,0.70,0.58,0.42,0.35,0.22,0.26,0.14,0.10,0.05,0.12,-0.03,0.08,0.14,0.02,0.10,-0.05,0.06,0.11,
   0.18,0.04,0.13,-0.02,0.09,0.22,0.05,0.15,-0.10,0.07,0.12,0.01,0.08,0.04],
  [0.04,-0.05,0.08,-0.12,0.03,0.10,-0.02,0.06,0.13,0.00,-0.06,0.09,0.02,0.07,-0.13,0.05,0.11,-0.03,0.08,0.01,
   0.12,-0.04,0.06,0.14,0.03,0.09,0.15,0.05,0.10,0.02,0.08,-0.02,-0.08,0.04,0.00,0.10,0.45,0.78,0.92,0.95,
   1.10,0.85,0.62,0.48,0.40,0.28,0.32,0.18,0.24,0.12,0.20,0.08,0.22,0.14,0.05,0.17,0.10,0.03,0.15,0.09,
   0.20,0.06,0.12,0.01,0.16,0.08,-0.03,0.13,0.05,0.10,0.18,0.02,0.09,0.12],
  [0.03,-0.06,0.08,0.01,-0.04,0.10,0.05,-0.08,0.06,0.02,0.09,-0.05,0.04,0.11,-0.02,0.07,-0.10,0.03,0.08,-0.15,
   0.05,0.10,-0.03,0.06,0.12,-0.06,0.04,-0.13,0.09,0.02,0.15,0.45,0.80,0.92,1.0,0.85,0.96,-0.14,0.40,0.35,
   0.38,0.28,0.34,0.25,0.30,0.22,0.32,0.26,0.20,0.35,0.18,0.28,0.24,0.33,0.15,0.26,0.30,0.20,0.36,0.22,
   0.27,0.17,0.31,0.24,0.19,0.29,0.22,0.34,0.16,0.27,0.21,0.30,0.18,0.25,0.23]
];

// ---- layout ----
var width = 1322, height = 1582;
var pw = 295, ph = 258;
var colLeft = [92, 394, 697, 1000];
var rowTop = [4, 313.2, 622.4, 931.6, 1240.8];
var col = {
  obs: '#333333', intr: '#ff4a14', noigm: '#ffd51c', plus: '#6f9ff0', minus: '#2f8c5a', igm: '#f4c3de'
};

var svg = d3.select('#chart').append('svg')
  .attr('width', width)
  .attr('height', height)
  .style('background', '#fff');

var y = d3.scaleLinear().domain([-0.3, 1.2]).range([ph, 0]);

function padKs(s) { return s.length < 4 ? ' ' + s + ' ' : s; }

// value with stacked super/subscript, centred at cx
function scripted(g, cx, by, parts, color) {
  var t0 = g.append('text').attr('y', by).attr('font-size', 21).attr('fill', color).text(parts[0]);
  var w0 = t0.node().getComputedTextLength();
  var t1 = g.append('text').attr('y', by - 8).attr('font-size', 15).attr('fill', color).text(parts[1]);
  var t2 = g.append('text').attr('y', by + 6).attr('font-size', 15).attr('fill', color).text(parts[2]);
  var w1 = Math.max(t1.node().getComputedTextLength(), t2.node().getComputedTextLength());
  var x0 = cx - (w0 + w1) / 2;
  t0.attr('x', x0);
  t1.attr('x', x0 + w0);
  t2.attr('x', x0 + w0);
}

for (var i = 0; i < 20; i++) {
  var r = Math.floor(i / 4), c = i % 4;
  var g = svg.append('g').attr('transform', 'translate(' + colLeft[c] + ',' + rowTop[r] + ')');
  var x = d3.scaleLinear().domain(xDomains[i]).range([0, pw]);

  g.append('clipPath').attr('id', 'clip' + i)
    .append('rect').attr('width', pw).attr('height', ph);
  var plot = g.append('g').attr('clip-path', 'url(#clip' + i + ')');

  var smooth = d3.line().x(function(d) { return x(d[0]); }).y(function(d) { return y(d[1]); })
    .curve(d3.curveMonotoneX);

  // IGM transmission
  plot.append('path')
    .attr('d', smooth(d3.zip(igmTx[i], igmTy[i])))
    .attr('fill', 'none').attr('stroke', col.igm).attr('stroke-width', 3);

  // observed spectrum as steps
  var obsPts = observed[i].map(function(v, k) { return [obsStart[i] + k * obsStep[i], v]; });
  obsPts.push([obsStart[i] + observed[i].length * obsStep[i], observed[i][observed[i].length - 1]]);
  var step = d3.line().x(function(d) { return x(d[0]); }).y(function(d) { return y(d[1]); })
    .curve(d3.curveStepAfter);
  plot.append('path').attr('d', step(obsPts))
    .attr('fill', 'none').attr('stroke', col.obs).attr('stroke-width', 1.5);

  var models = [[intrinsic[i], col.intr], [noIgm[i], col.noigm], [igmPlus[i], col.plus], [igmMinus[i], col.minus]];
  models.forEach(function(m) {
    plot.append('path')
      .attr('d', smooth(d3.zip(modelX[i], m[0])))
      .attr('fill', 'none').attr('stroke', m[1]).attr('stroke-width', 3.3)
      .attr('stroke-opacity', 0.92);
  });

  // axes
  var xAxis = d3.axisBottom(x).tickValues(xTicks[i]).tickSize(5).tickSizeOuter(0).tickFormat(d3.format('d'));
  var gx = g.append('g').attr('transform', 'translate(0,' + ph + ')').call(xAxis);
  gx.select('.domain').remove();
  gx.selectAll('text').attr('font-size', 19).attr('font-family', '"Liberation Serif", serif')
    .attr('fill', '#000').attr('dy', '1.05em');

  var yAxis = d3.axisLeft(y).tickValues(yTicks).tickSize(5).tickSizeOuter(0).tickFormat(d3.format('.1f'));
  var gy = g.append('g').call(yAxis);
  gy.select('.domain').remove();
  gy.selectAll('text').attr('font-size', 19).attr('font-family', '"Liberation Serif", serif')
    .attr('fill', '#000').attr('x', -9);
  if (c > 0) gy.selectAll('text').remove();

  g.append('rect').attr('width', pw).attr('height', ph)
    .attr('fill', 'none').attr('stroke', '#000').attr('stroke-width', 1.3);

  // redshift label
  var zt = g.append('text').attr('x', pw - 16).attr('y', 27).attr('text-anchor', 'end').attr('font-size', 23);
  zt.append('tspan').attr('font-style', 'italic').text('z');
  zt.append('tspan').text(' = ' + redshifts[i]);

  // panel letter
  g.append('text').attr('x', pw - 22).attr('y', 114).attr('text-anchor', 'end')
    .attr('font-size', 42).attr('font-style', 'italic').text(letters[i]);

  // KS statistics
  var ks = g.append('text').attr('x', pw / 2).attr('y', ph - 9).attr('text-anchor', 'middle').attr('font-size', 20);
  ks.append('tspan').text('KS = ');
  ks.append('tspan').attr('fill', col.plus).text(ksPlus[i]);
  ks.append('tspan').text(',');
  ks.append('tspan').attr('fill', col.minus).text(padKs(ksMinus[i]));
  ks.append('tspan').text(',');
  ks.append('tspan').attr('fill', col.noigm).text(ksNoIgm[i]);

  // escape fraction annotations
  if (fescObs[i]) {
    var f = g.append('text').attr('x', 2).attr('y', 71).attr('font-size', 26).attr('font-style', 'italic').text('f');
    var fw = f.node().getComputedTextLength();
    var sp = g.append('text').attr('x', 2 + fw + 1).attr('y', 59).attr('font-size', 14).attr('font-style', 'italic').text('4\u00c5');
    var sb = g.append('text').attr('x', 2 + fw - 1).attr('y', 77).attr('font-size', 15).text('esc');
    var sw = Math.max(sp.node().getComputedTextLength() + 2, sb.node().getComputedTextLength() - 1);
    g.append('text').attr('x', 2 + fw + sw).attr('y', 71).attr('font-size', 22).text(' = ' + fescObs[i]);
    scripted(g, 46, 100, fescPlus[i], col.plus);
    scripted(g, 46, 130, fescMinus[i], col.minus);
  }

  // legend in the first panel
  if (i === 0) {
    var lg = g.append('g').attr('transform', 'translate(7,7)');
    lg.append('rect').attr('width', 104).attr('height', 126).attr('rx', 3)
      .attr('fill', '#fff').attr('fill-opacity', 0.85).attr('stroke', '#cccccc');
    var entries = [['Observed', col.obs, 1.5], ['Intrinsic', col.intr, 3.3], ['No IGM', col.noigm, 3.3],
      ['IGM+', col.plus, 3.3], ['IGM\u2212', col.minus, 3.3], ['IGM T', col.igm, 3.3]];
    entries.forEach(function(e, k) {
      var yy = 12.5 + k * 20.2;
      lg.append('line').attr('x1', 5).attr('x2', 34).attr('y1', yy).attr('y2', yy)
        .attr('stroke', e[1]).attr('stroke-width', e[2]);
      var tt = lg.append('text').attr('x', 45).attr('y', yy + 4.5).attr('font-size', 14).text(e[0]);
      if (k === 3 || k === 4) tt.append('tspan').attr('font-style', 'italic').text('z');
    });
  }
}

// y labels, one per row
rowTop.forEach(function(t) {
  var yl = svg.append('text').attr('transform', 'translate(40,' + (t + 131) + ') rotate(-90)')
    .attr('text-anchor', 'middle').attr('font-size', 32);
  yl.append('tspan').attr('font-style', 'italic').text('f');
  yl.append('tspan').attr('font-size', 22).attr('font-style', 'italic').attr('dy', 6).text('\u03bb');
  yl.append('tspan').attr('dy', -6).text(' [a. u. ]');
});

// x labels, one per column
colLeft.forEach(function(l) {
  var xl = svg.append('text').attr('x', l + pw / 2).attr('y', 1570)
    .attr('text-anchor', 'middle').attr('font-size', 34);
  xl.append('tspan').attr('font-style', 'italic').text('\u03bb');
  xl.append('tspan').attr('font-size', 24).attr('dy', 6).text('Obs');
  xl.append('tspan').attr('dy', -6).text('[\u00c5]');
});
</script>
</body>
</html>
